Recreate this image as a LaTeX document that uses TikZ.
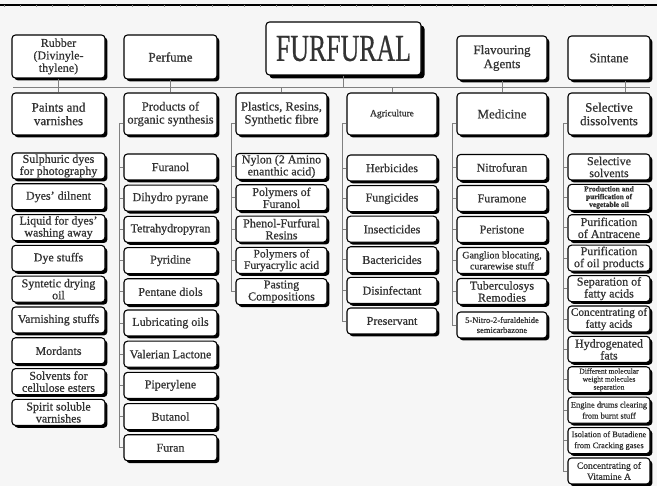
\documentclass[tikz,border=0pt]{standalone}
\usepackage{fontspec}
\setmainfont{Liberation Serif}[FakeBold=0.7]
\usetikzlibrary{shadows,calc}
\definecolor{bg}{HTML}{F6F6F6}
\definecolor{conncol}{HTML}{808080}
\tikzset{
  bx/.style={draw=black, line width=1.1pt, rounded corners=3.5pt, fill=white, align=center,
    inner sep=0.5pt, text=black!80, font=\fontsize{12}{12}\selectfont},
  bxs/.style={bx, drop shadow={shadow xshift=2.4pt, shadow yshift=-2.4pt, fill=black, opacity=1}},
  conn/.style={draw=conncol, line width=0.8pt},
  c1/.style={bxs, minimum width=93pt, minimum height=26pt},
  c2/.style={bxs, minimum width=93pt, minimum height=26pt},
  c3/.style={bxs, minimum width=91pt, minimum height=26pt},
  c4/.style={bxs, minimum width=90pt, minimum height=26pt},
  c5/.style={bxs, minimum width=90pt, minimum height=26pt},
  c6/.style={bxs, minimum width=82pt, minimum height=26pt},
  hd/.style={minimum height=42pt, font=\fontsize{13}{13.5}\selectfont},
}
\begin{document}
\begin{tikzpicture}[x=1pt,y=-1pt]
\fill[bg] (0,0) rectangle (657,486);
\useasboundingbox (0,0) rectangle (657,486);
\draw[line width=1.5pt] (0,5) -- (657,5);
\foreach \x in {4,20,...,644} \draw[black!45, line width=0.5pt] (\x,5.5) -- (\x,7.5);

% top row
\node[bxs, minimum width=93pt, minimum height=43pt, font=\fontsize{12}{12.5}\selectfont] (rub) at (58.5,56.5) {Rubber\\(Divinyle-\\thylene)};
\node[bxs, minimum width=93pt, minimum height=44pt, font=\fontsize{13}{14}\selectfont] (perf) at (170.5,57) {Perfume};
\node[bx, minimum width=155pt, minimum height=53pt, drop shadow={shadow xshift=3.5pt, shadow yshift=-3.5pt, fill=black, opacity=1}] (furf) at (343.5,48.5) {\scalebox{0.68}[1]{\fontsize{38}{38}\selectfont FURFURAL}};
\node[bxs, minimum width=90pt, minimum height=44pt, font=\fontsize{13}{14}\selectfont] (flav) at (502,58) {Flavouring\\Agents};
\node[bxs, minimum width=82pt, minimum height=44pt, font=\fontsize{13}{14}\selectfont] (sint) at (609,58) {Sintane};

% second row
\node[c1, hd] (paints) at (58.5,114) {Paints and\\varnishes};
\node[c2, hd, font=\fontsize{12.5}{13}\selectfont] (prod) at (170.5,114) {Products of\\organic synthesis};
\node[c3, hd, font=\fontsize{12.5}{13}\selectfont] (plast) at (281.5,114) {Plastics, Resins,\\Synthetic fibre};
\node[c4, hd, font=\fontsize{9.5}{10}\selectfont] (agri) at (392,114) {Agriculture};
\node[c5, hd] (med) at (502,114) {Medicine};
\node[c6, hd] (seld) at (609,114) {Selective\\dissolvents};

% column 1
\node[c1] (a-1) at (58.5,166) {Sulphuric dyes\\for photography};
\node[c1] (a-2) at (58.5,196.8) {Dyes’ dilnent};
\node[c1] (a-3) at (58.5,227.6) {Liquid for dyes’\\washing away};
\node[c1] (a-4) at (58.5,258.4) {Dye stuffs};
\node[c1] (a-5) at (58.5,289.2) {Syntetic drying\\oil};
\node[c1] (a-6) at (58.5,320) {Varnishing stuffs};
\node[c1] (a-7) at (58.5,350.8) {Mordants};
\node[c1] (a-8) at (58.5,381.6) {Solvents for\\cellulose esters};
\node[c1] (a-9) at (58.5,412.4) {Spirit soluble\\varnishes};

% column 2
\node[c2] (b-1) at (170.5,167) {Furanol};
\node[c2] (b-2) at (170.5,198.2) {Dihydro pyrane};
\node[c2] (b-3) at (170.5,229.4) {Tetrahydropyran};
\node[c2] (b-4) at (170.5,260.6) {Pyridine};
\node[c2] (b-5) at (170.5,291.8) {Pentane diols};
\node[c2] (b-6) at (170.5,323) {Lubricating oils};
\node[c2] (b-7) at (170.5,354.2) {Valerian Lactone};
\node[c2] (b-8) at (170.5,385.4) {Piperylene};
\node[c2] (b-9) at (170.5,416.6) {Butanol};
\node[c2] (b-10) at (170.5,447.8) {Furan};

% column 3
\node[c3] (c-1) at (281.5,166.5) {Nylon (2 Amino\\enanthic acid)};
\node[c3] (c-2) at (281.5,197.8) {Polymers of\\Furanol};
\node[c3] (c-3) at (281.5,229.1) {Phenol-Furfural\\Resins};
\node[c3, font=\fontsize{11.5}{11.5}\selectfont] (c-4) at (281.5,260.4) {Polymers of\\Furyacrylic acid};
\node[c3] (c-5) at (281.5,291.7) {Pasting\\Compositions};

% column 4
\node[c4] (d-1) at (392,168) {Herbicides};
\node[c4] (d-2) at (392,198.6) {Fungicides};
\node[c4] (d-3) at (392,229.2) {Insecticides};
\node[c4] (d-4) at (392,259.8) {Bactericides};
\node[c4] (d-5) at (392,290.4) {Disinfectant};
\node[c4] (d-6) at (392,321) {Preservant};

% column 5
\node[c5] (e-1) at (502,167.5) {Nitrofuran};
\node[c5] (e-2) at (502,198.5) {Furamone};
\node[c5] (e-3) at (502,229.5) {Peristone};
\node[c5, font=\fontsize{10}{11}\selectfont] (e-4) at (502,260.5) {Ganglion blocating,\\curarewise stuff};
\node[c5] (e-5) at (502,291.5) {Tuberculosys\\Remodies};
\node[c5, font=\fontsize{8.5}{10}\selectfont] (e-6) at (502,325) {5-Nitro-2-furaldehide\\semicarbazone};

% column 6
\node[c6] (f-1) at (609,167) {Selective\\solvents};
\node[c6, font=\bfseries\fontsize{7.5}{7.8}\selectfont] (f-2) at (609,197.4) {Production and\\purification of\\vegetable oil};
\node[c6] (f-3) at (609,227.8) {Purification\\of Antracene};
\node[c6] (f-4) at (609,258.2) {Purification\\of oil products};
\node[c6] (f-5) at (609,288.6) {Separation of\\fatty acids};
\node[c6, font=\fontsize{11.3}{12}\selectfont] (f-6) at (609,319) {Concentrating of\\fatty acids};
\node[c6] (f-7) at (609,349.4) {Hydrogenated\\fats};
\node[c6, font=\fontsize{7.5}{8}\selectfont] (f-8) at (609,379.8) {Different molecular\\weight molecules\\separation};
\node[c6, font=\fontsize{8.4}{11}\selectfont] (f-9) at (609,410.2) {Engine drums clearing\\from burnt stuff};
\node[c6, font=\fontsize{8.4}{11}\selectfont] (f-10) at (609,440.6) {Isolation of Butadiene\\from Cracking gases};
\node[c6, font=\fontsize{9.5}{11}\selectfont] (f-11) at (609,471) {Concentrating of\\Vitamine A};

% bus and stems
\coordinate (busL) at (13,87);
\coordinate (busR) at (650,87);
\draw[conn] (busL) -- (busR);
\draw[conn] (rub.south) -- (paints.north);
\draw[conn] (perf.south) -- (prod.north);
\draw[conn] (furf.south) -- (furf.south |- busL);
\draw[conn] (plast.north) -- (plast.north |- busL);
\draw[conn] (agri.north) -- (agri.north |- busL);
\draw[conn] (flav.south) -- (med.north);
\draw[conn] ($(sint.south)+(16,0)$) -- ($(seld.north)+(16,0)$);

% column brackets
\draw[conn] ($(prod.west)+(0,9)$) -- ++(-4.5,0) |- (b-10.west);
\foreach \i in {1,...,10} \draw[conn] (b-\i.west) -- ++(-4.5,0);
\draw[conn] ($(plast.west)+(0,9)$) -- ++(-4.5,0) |- (c-5.west);
\foreach \i in {1,...,5} \draw[conn] (c-\i.west) -- ++(-4.5,0);
\draw[conn] ($(agri.west)+(0,9)$) -- ++(-4.5,0) |- (d-6.west);
\foreach \i in {1,...,6} \draw[conn] (d-\i.west) -- ++(-4.5,0);
\draw[conn] ($(med.west)+(0,9)$) -- ++(-4.5,0) |- (e-6.west);
\foreach \i in {1,...,6} \draw[conn] (e-\i.west) -- ++(-4.5,0);
\draw[conn] ($(seld.west)+(0,9)$) -- ++(-4.5,0) |- (f-11.west);
\foreach \i in {1,...,11} \draw[conn] (f-\i.west) -- ++(-4.5,0);
\end{tikzpicture}
\end{document}
